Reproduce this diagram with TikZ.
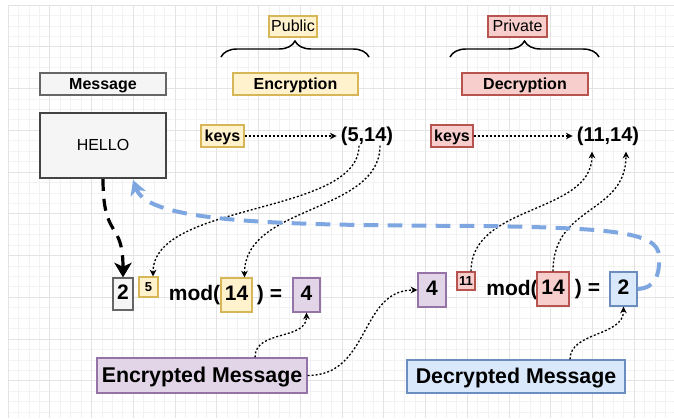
\documentclass[tikz,border=0pt]{standalone}
\usepackage{fontspec}
\setmainfont{Liberation Sans}
\usetikzlibrary{arrows.meta,decorations.pathreplacing}

\definecolor{amarelo}{HTML}{FFF2CC}
\definecolor{amareloesc}{HTML}{D6B656}
\definecolor{rosa}{HTML}{F8CECC}
\definecolor{rosaesc}{HTML}{B85450}
\definecolor{roxo}{HTML}{E1D5E7}
\definecolor{roxoesc}{HTML}{9673A6}
\definecolor{azul}{HTML}{DAE8FC}
\definecolor{azulesc}{HTML}{6C8EBF}
\definecolor{azulseta}{HTML}{7EA6E0}
\definecolor{cinza}{HTML}{F5F5F5}
\definecolor{cinzaesc}{HTML}{666666}
\definecolor{cinzaforte}{HTML}{444444}

\begin{document}
\begin{tikzpicture}[x=0.75pt, y=-0.75pt,
    caixa/.style={draw, line width=0.9pt, inner sep=0pt, text=black},
    pub/.style={caixa, fill=amarelo, draw=amareloesc},
    priv/.style={caixa, fill=rosa, draw=rosaesc},
    cifra/.style={caixa, fill=roxo, draw=roxoesc},
    claro/.style={caixa, fill=azul, draw=azulesc},
    neutro/.style={caixa, fill=cinza, draw=cinzaesc},
    normal/.style={font=\fontsize{12}{14}\selectfont, text height=8.6pt, text depth=0.4pt},
    titulo/.style={font=\fontsize{12}{14}\selectfont\bfseries, text height=8.6pt, text depth=0.4pt, minimum height=16.5pt},
    grande/.style={font=\fontsize{16}{19}\selectfont\bfseries, text height=11.5pt, text depth=0.5pt},
    pequeno/.style={font=\fontsize{9.75}{11}\selectfont\bfseries},
    par/.style={font=\fontsize{15}{18}\selectfont\bfseries, inner sep=0pt},
    conta/.style={font=\fontsize{15.75}{18}\selectfont\bfseries, text height=11.5pt, text depth=3.3pt, inner sep=0pt},
    pontilhado/.style={line width=1pt, dash pattern=on 1.5pt off 1.5pt, -{Stealth[length=5pt,width=5pt,inset=1.5pt]}},
    chaveta/.style={decorate, decoration={brace, amplitude=12pt}, line width=1.1pt},
  ]
    \useasboundingbox (0,0) rectangle (674,418);

    % Grade de fundo
    \foreach \i in {0,...,63}
      \draw[black!5, line width=0.5pt] ({8+10.4375*\i},5) -- ({8+10.4375*\i},418);
    \foreach \j in {0,...,39}
      \draw[black!5, line width=0.5pt] (8,{5+10.4375*\j}) -- (674,{5+10.4375*\j});
    \foreach \i in {0,...,15}
      \draw[black!11, line width=0.6pt] ({8+41.75*\i},5) -- ({8+41.75*\i},418);
    \foreach \j in {0,...,9}
      \draw[black!11, line width=0.6pt] (8,{5+41.75*\j}) -- (674,{5+41.75*\j});

    % Mensagem
    \node[neutro, titulo, minimum width=94.5pt] (rotulo) at (103,84) {Message};
    \node[neutro, normal, draw=cinzaforte, line width=1.3pt, minimum width=94.5pt, minimum height=48.75pt] (hello) at (103,145.5) {HELLO};

    % Chaves publica e privada
    \node[pub, normal, minimum width=36pt, minimum height=15.75pt] (publico) at (293,26.5) {Public};
    \draw[chaveta] (221,57) -- (369,57);
    \node[pub, titulo, minimum width=93.75pt] (enc) at (295.5,84) {Encryption};
    \node[priv, normal, minimum width=44.25pt, minimum height=15.75pt] (privado) at (517.5,26.5) {Private};
    \draw[chaveta] (450,57) -- (599,57);
    \node[priv, titulo, minimum width=94.5pt] (dec) at (525,84) {Decryption};

    \node[pub, titulo, minimum width=32.25pt] (kpub) at (222.5,136) {keys};
    \node[par] (pk) at (367,136) {(5,14)};
    \node[priv, titulo, minimum width=31.5pt] (kpriv) at (452,136) {keys};
    \node[par] (sk) at (608,136) {(11,14)};
    \draw[pontilhado, shorten >=3pt] (kpub) -- (pk);
    \draw[pontilhado, shorten >=3pt] (kpriv) -- (sk);

    % Cifragem
    \node[neutro, conta, minimum width=15pt, minimum height=24pt] (m) at (123,294) {2};
    \node[pub, pequeno, minimum width=14.25pt, minimum height=15pt] (e) at (148.5,287) {5};
    \node[conta] (mod1) at (194.5,295) {mod(};
    \node[pub, conta, minimum width=23.25pt, minimum height=25.5pt] (n1) at (236.5,295) {14};
    \node[conta] (fecha1) at (269.5,295) {) =};
    \node[cifra, conta, minimum width=20.25pt, minimum height=25.5pt] (c1) at (306.5,295) {4};
    \node[cifra, grande, minimum width=157.5pt, minimum height=26.25pt] (cript) at (202,375.5) {Encrypted Message};

    % Decifragem
    \node[cifra, conta, minimum width=21pt, minimum height=25.5pt] (c2) at (432,290) {4};
    \node[priv, pequeno, minimum width=13.5pt, minimum height=13.5pt] (d) at (466,281) {11};
    \node[conta] (mod2) at (512,290) {mod(};
    \node[priv, conta, minimum width=24pt, minimum height=25.5pt] (n2) at (553,289) {14};
    \node[conta] (fecha2) at (587.5,289) {) =};
    \node[claro, conta, minimum width=20.25pt, minimum height=25.5pt] (m2) at (623.5,289) {2};
    \node[claro, grande, minimum width=163.5pt, minimum height=24.75pt] (decript) at (516,376.5) {Decrypted Message};

    % Ligacoes das chaves
    \draw[pontilhado] ([xshift=-6pt]pk.south) .. controls +(0,70) and +(0,-75) .. ([xshift=3.4pt]e.north);
    \draw[pontilhado] ([xshift=9.75pt]pk.south) .. controls +(0,68) and +(0,-73) .. ([xshift=6pt]n1.north);
    \draw[pontilhado] ([xshift=3.75pt]d.north) .. controls +(0,-68) and +(0,63) .. ([xshift=-12pt,yshift=-4.5pt]sk.south);
    \draw[pontilhado] (n2.north) .. controls +(0,-67) and +(0,63) .. ([xshift=13.5pt,yshift=-4.5pt]sk.south);

    % Mensagens
    \draw[pontilhado] ([xshift=39.75pt]cript.north) .. controls +(0,-28) and +(0,28) .. (c1.south);
    \draw[pontilhado] (cript.east) .. controls +(63,0) and +(-58,0) .. (c2.west);
    \draw[pontilhado] ([xshift=40.5pt]decript.north) .. controls +(0,-28) and +(0,30) .. (m2.south);

    % Caminho da mensagem
    \draw[line width=2.4pt, dash pattern=on 9pt off 6pt, -{Stealth[length=11pt,width=13pt,inset=3pt]}]
      (hello.south) .. controls +(0,62) and +(0,-58) .. (m.north);
    \coordinate (volta) at (133,180);
    \draw[azulseta, line width=3pt, dash pattern=on 11pt off 7pt, -{Stealth[length=11pt,width=12pt,inset=3pt]}]
      (m2.east) .. controls +(18,-1) and (660,275) .. (659,255)
      .. controls (657,232) and (610,228) .. (483,226)
      .. controls (300,225) and (150,225) .. (volta);

\end{tikzpicture}
\end{document}
